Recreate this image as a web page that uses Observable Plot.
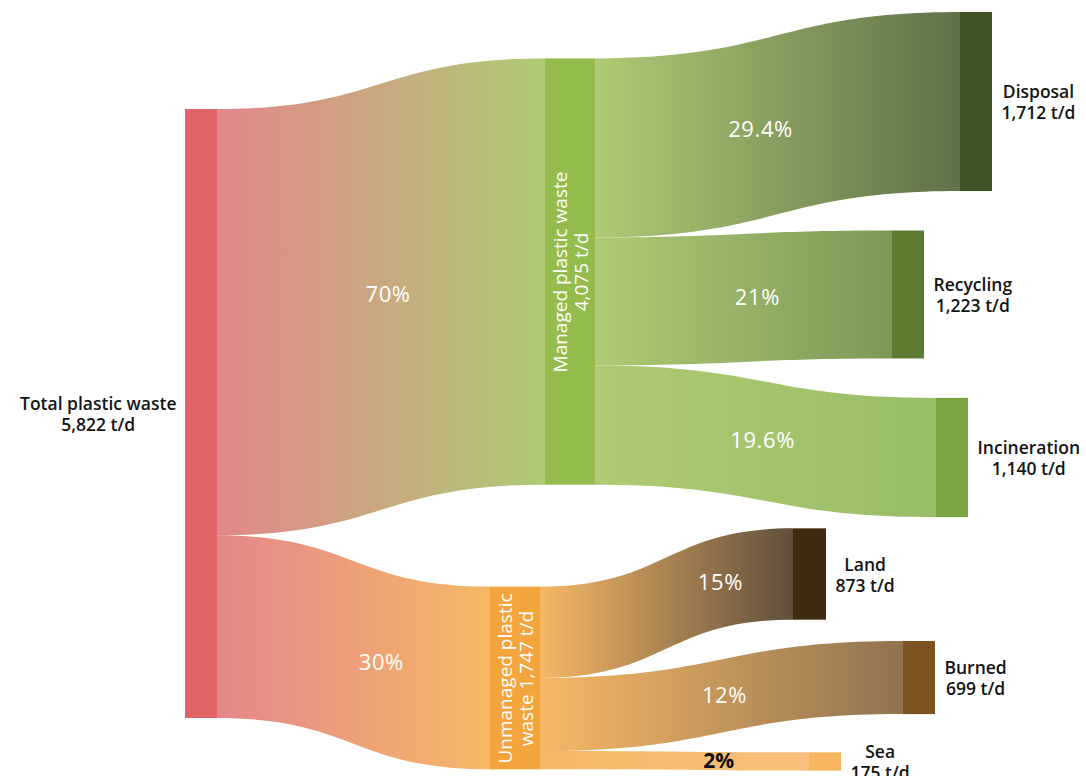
<!DOCTYPE html>
<html>
<head>
<meta charset="utf-8">
<script src="https://cdn.jsdelivr.net/npm/d3@7"></script>
<script src="https://cdn.jsdelivr.net/npm/@observablehq/plot@0.6"></script>
<style>
  html, body { margin: 0; padding: 0; background: #ffffff; }
  #chart svg { display: block; }
</style>
</head>
<body>
<div id="chart"></div>
<script>
// ---------------- DATA ----------------
const nodeNames = ["Total plastic waste", "Managed plastic waste", "Unmanaged plastic waste",
  "Disposal", "Recycling", "Incineration", "Land", "Burned", "Sea"];
const nodeValues = [5822, 4075, 1747, 1712, 1223, 1140, 873, 699, 175]; // t/d
const nodeLabels = ["Total plastic waste\n5,822 t/d", "Managed plastic waste\n4,075 t/d",
  "Unmanaged plastic\nwaste 1,747 t/d", "Disposal\n1,712 t/d", "Recycling\n1,223 t/d",
  "Incineration\n1,140 t/d", "Land\n873 t/d", "Burned\n699 t/d", "Sea\n175 t/d"];
const linkSources = [0, 0, 1, 1, 1, 2, 2, 2];
const linkTargets = [1, 2, 3, 4, 5, 6, 7, 8];
const linkValues = [4075, 1747, 1712, 1223, 1140, 873, 699, 175]; // t/d
const linkLabels = ["70%", "30%", "29.4%", "21%", "19.6%", "15%", "12%", "2%"];

// ---------------- LAYOUT (freeform node arrangement, fractions of the canvas) ----------------
const W = 1086, H = 776;
const layout = {
  nodeX: [0.1851, 0.5249, 0.4742, 0.8987, 0.8361, 0.8766, 0.7454, 0.8462, 0.7597], // node centre
  nodeY: [0.5329, 0.3499, 0.8737, 0.1308, 0.3795, 0.5896, 0.7397, 0.8731, 0.9813], // node centre
  nodeThickness: [32, 50, 50, 32, 32, 32, 33, 32, 32], // px
  heightPerUnit: 0.1046 / 776, // fraction of height per t/d
  labelSide: ["left", "inside", "inside", "right", "right", "right", "right", "right", "right"],
  linkLabelAt: [0.52, 0.60, 0.452, 0.545, 0.49, 0.711, 0.507, 0.662],
  labelGap: 9
};

// ---------------- STYLE ----------------
const style = {
  font: "'Open Sans', 'Noto Sans', sans-serif",
  nodeColors: ["#e06567", "#94bc4c", "#f4a43c", "#3e5424", "#5b7c31", "#7aa542", "#3f2a10", "#7b5220", "#f6b55e"],
  flowColors: ["#e3878b", "#aecb74", "#f6b866", "#5f7149", "#7b9858", "#98bd66", "#5f4f3d", "#907350", "#f7c17c"],
  outerLabel: { size: 17.5, weight: 600, color: "#141414", lineHeight: 1.2 },
  innerLabel: { size: 19, weight: 400, color: "#ffffff", lineHeight: 1.1 },
  pctLabel: { size: 22, weight: 500, color: "#ffffff", spacing: "0.6px" },
  pctLabelSmall: { size: 21, weight: 700, color: "#111111" }
};

// ---------------- BUILD ----------------
const nodes = nodeNames.map((name, i) => {
  const h = nodeValues[i] * layout.heightPerUnit;
  const w = layout.nodeThickness[i] / W;
  return {
    i, name, value: nodeValues[i], label: nodeLabels[i], side: layout.labelSide[i],
    x1: layout.nodeX[i] - w / 2, x2: layout.nodeX[i] + w / 2,
    y1: layout.nodeY[i] - h / 2, y2: layout.nodeY[i] + h / 2,
    outOff: 0, inOff: 0, color: style.nodeColors[i]
  };
});

const links = linkValues.map((v, i) => {
  const s = nodes[linkSources[i]], t = nodes[linkTargets[i]];
  const h = v * layout.heightPerUnit;
  const sy1 = s.y1 + s.outOff; s.outOff += h;
  const ty1 = t.y1 + t.inOff; t.inOff += h;
  return { i, s: s.i, t: t.i, value: v, label: linkLabels[i], h,
    xs: s.x2, xt: t.x1, sy1, sy2: sy1 + h, ty1, ty2: ty1 + h };
});

const areaRows = links.flatMap(l => [
  { link: l.i, x: l.xs, y1: l.sy1, y2: l.sy2 },
  { link: l.i, x: l.xt, y1: l.ty1, y2: l.ty2 }
]);

// position of a label along a bump-x link
function bumpFrac(f) {
  let lo = 0, hi = 1;
  for (let k = 0; k < 50; k++) {
    const m = (lo + hi) / 2;
    const fx = 1.5 * m * (1 - m) + m * m * m;
    if (fx < f) lo = m; else hi = m;
  }
  const t = (lo + hi) / 2;
  return 3 * t * t - 2 * t * t * t;
}
const pctRows = links.map(l => {
  const f = layout.linkLabelAt[l.i];
  const s = bumpFrac(f);
  const yc0 = (l.sy1 + l.sy2) / 2, yc1 = (l.ty1 + l.ty2) / 2;
  return { text: l.label, x: l.xs + (l.xt - l.xs) * f, y: yc0 + (yc1 - yc0) * s,
    small: l.h * H < 24 };
});

// text measuring for centred outer labels
const ctx = document.createElement("canvas").getContext("2d");
ctx.font = `${style.outerLabel.weight} ${style.outerLabel.size}px ${style.font}`;
const outerRows = nodes.filter(n => n.side !== "inside").map(n => {
  const wmax = d3.max(n.label.split("\n"), s => ctx.measureText(s).width);
  const off = (layout.labelGap + wmax / 2) / W;
  return { text: n.label, x: n.side === "left" ? n.x1 - off : n.x2 + off, y: (n.y1 + n.y2) / 2 };
});
const innerRows = nodes.filter(n => n.side === "inside").map(n => ({
  text: n.label, x: (n.x1 + n.x2) / 2, y: (n.y1 + n.y2) / 2
}));

const marks = [
  ...links.map(l => Plot.areaY(areaRows.filter(r => r.link === l.i), {
    x: "x", y1: "y1", y2: "y2", curve: "bump-x", fill: `url(#flow${l.i})`
  })),
  Plot.rect(nodes, { x1: "x1", x2: "x2", y1: "y1", y2: "y2", fill: "color" }),
  Plot.text(outerRows, { x: "x", y: "y", text: "text", textAnchor: "middle",
    fontSize: style.outerLabel.size, fontWeight: style.outerLabel.weight,
    fill: style.outerLabel.color, lineHeight: style.outerLabel.lineHeight }),
  Plot.text(innerRows, { x: "x", y: "y", text: "text", textAnchor: "middle", rotate: -90,
    fontSize: style.innerLabel.size, fontWeight: style.innerLabel.weight,
    fill: style.innerLabel.color, lineHeight: style.innerLabel.lineHeight }),
  Plot.text(pctRows.filter(d => !d.small), { x: "x", y: "y", text: "text",
    fontSize: style.pctLabel.size, fontWeight: style.pctLabel.weight, fill: style.pctLabel.color,
    className: "pct" }),
  Plot.text(pctRows.filter(d => d.small), { x: "x", y: "y", text: "text",
    fontSize: style.pctLabelSmall.size, fontWeight: style.pctLabelSmall.weight, fill: style.pctLabelSmall.color })
];

const chart = Plot.plot({
  width: W, height: H,
  margin: 0,
  x: { domain: [0, 1], range: [0, W], axis: null },
  y: { domain: [0, 1], range: [0, H], axis: null },
  color: { type: "identity" },
  style: { fontFamily: style.font, background: "#ffffff", overflow: "hidden" },
  marks
});

const defs = d3.select(chart).insert("defs", ":first-child");
links.forEach(l => {
  const g = defs.append("linearGradient").attr("id", `flow${l.i}`)
    .attr("x1", "0").attr("x2", "1").attr("y1", "0").attr("y2", "0");
  g.append("stop").attr("offset", "0").attr("stop-color", style.flowColors[l.s]);
  g.append("stop").attr("offset", "1").attr("stop-color", style.flowColors[l.t]);
});
d3.select(chart).selectAll("g.pct text").style("letter-spacing", style.pctLabel.spacing);

document.getElementById("chart").appendChild(chart);
</script>
</body>
</html>
